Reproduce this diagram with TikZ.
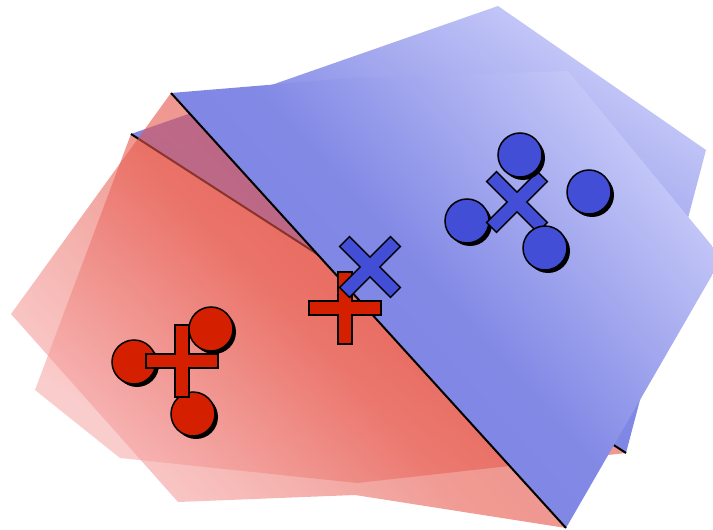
\documentclass[tikz,border=0pt]{standalone}
\usetikzlibrary{calc}
\definecolor{redmark}{RGB}{212,32,0}
\definecolor{bluemark}{RGB}{66,78,214}
\definecolor{rednear}{RGB}{226,66,52}
\definecolor{redmid}{RGB}{230,88,76}
\definecolor{redfar}{RGB}{247,172,172}
\definecolor{bluenear}{RGB}{120,128,226}
\definecolor{bluemid}{RGB}{130,137,229}
\definecolor{bluefar}{RGB}{198,201,248}
\tikzset{
  plusmark/.pic={\draw[pic actions] (-36,-7) -- (-7,-7) -- (-7,-36) -- (7,-36) -- (7,-7)
    -- (36,-7) -- (36,7) -- (7,7) -- (7,36) -- (-7,36) -- (-7,7) -- (-36,7) -- cycle;},
  ballmark/.pic={\fill[black] (3,3) circle (22); \draw[pic actions] (0,0) circle (22);}
}
\begin{document}
\begin{tikzpicture}[x=1pt, y=-1pt,
  redhalf/.style={top color=rednear, bottom color=redfar, middle color=redmid, fill opacity=0.6},
  bluehalf/.style={top color=bluefar, bottom color=bluenear, middle color=bluemid},
  cut/.style={draw=black, line width=2pt},
  redmk/.style={fill=redmark, draw=black, line width=1.5pt},
  bluemk/.style={fill=bluemark, draw=black, line width=1.5pt}
]
  \useasboundingbox (0,0) rectangle (713,530);
  \clip (0,0) rectangle (713,530);
  \coordinate (backtop) at (131,134);
  \coordinate (backend) at (626,453);
  \coordinate (fronttop) at (171,93);
  \coordinate (frontend) at (566,528);
  % back layer
  \path[bluehalf, shading angle=-33] (backtop) -- (498,6) -- (706,150) -- (backend) -- cycle;
  \path[redhalf, shading angle=-33] (backtop) -- (35,390) -- (120,458) -- (357,483) -- (backend) -- cycle;
  \draw[cut] (backtop) -- (backend);
  % front layer
  \path[redhalf, shading angle=-48] (fronttop) -- (11,314) -- (178,502) -- (355,495) -- (frontend) -- cycle;
  \path[bluehalf, shading angle=-48] (fronttop) -- (352,78) -- (568,71) -- (722,258) -- (frontend) -- cycle;
  \draw[cut] (fronttop) -- (frontend);
  % samples
  \foreach \x/\y in {134/362, 211/329, 193/414}
    \pic[redmk] at (\x,\y) {ballmark};
  \pic[redmk] at (182,361) {plusmark};
  \pic[redmk] at (345,308) {plusmark};
  \pic[bluemk, rotate=45] at (370,267) {plusmark};
  \pic[bluemk] at (467,221) {ballmark};
  \pic[bluemk, rotate=45] at (517,202) {plusmark};
  \foreach \x/\y in {520/155, 589/192, 545/248}
    \pic[bluemk] at (\x,\y) {ballmark};
\end{tikzpicture}
\end{document}
